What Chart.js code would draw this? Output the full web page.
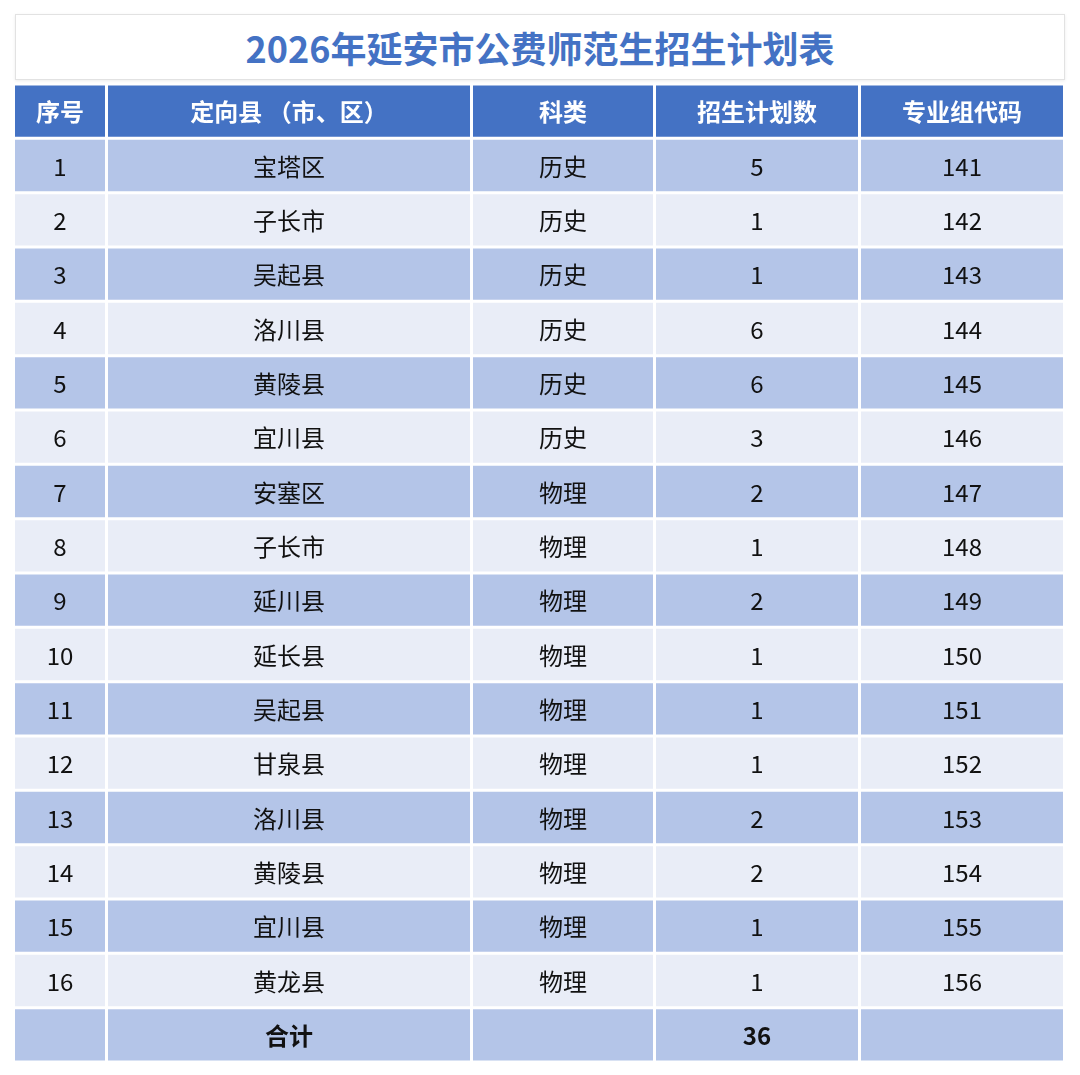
<!DOCTYPE html>
<html><head><meta charset="utf-8">
<script src="https://cdn.jsdelivr.net/npm/chart.js@4"></script>
<style>
body{margin:0;background:#fff;width:1080px;height:1075px;position:relative;overflow:hidden;font-family:"Noto Sans CJK SC","Noto Sans",sans-serif}
#t{position:absolute;left:15px;top:14px;width:1048px;height:64px;border:1px solid #e2e2e2;box-shadow:0 1px 3px rgba(0,0,0,0.08);color:#4472C4;font-weight:bold;font-size:36px;line-height:64px;text-align:center}
#w{position:absolute;left:0;top:0;width:1080px;height:1075px}
</style></head><body>
<div id="t">2026年延安市公费师范生招生计划表</div>
<div id="w"><canvas id="c"></canvas></div>
<script>
const headers = ["序号","定向县 （市、区）","科类","招生计划数","专业组代码"];
const seq = ["1","2","3","4","5","6","7","8","9","10","11","12","13","14","15","16"];
const counties = ["宝塔区","子长市","吴起县","洛川县","黄陵县","宜川县","安塞区","子长市","延川县","延长县","吴起县","甘泉县","洛川县","黄陵县","宜川县","黄龙县"];
const subjects = ["历史","历史","历史","历史","历史","历史","物理","物理","物理","物理","物理","物理","物理","物理","物理","物理"];
const plans = [5,1,1,6,6,3,2,1,2,1,1,1,2,2,1,1];
const codes = ["141","142","143","144","145","146","147","148","149","150","151","152","153","154","155","156"];
const totalLabel = "合计";
const total = plans.reduce((a,b)=>a+b,0);

// layout (not data)
const colBounds = [[0,90],[93,455],[458,638],[641,843],[846,1048]];
const rowsText = [headers].concat(seq.map((s,i)=>[s,counties[i],subjects[i],String(plans[i]),codes[i]])).concat([["",totalLabel,"",String(total),""]]);
const labels = rowsText.map((_,i)=>"r"+i);
const N = rowsText.length;
const rowColor = i => i===0 ? "#4472C4" : (i%2===1 ? "#B4C5E8" : "#E9EDF7");

const datasets = colBounds.map((b,ci)=>({
  data: labels.map(()=>[b[0],b[1]]),
  backgroundColor: labels.map((_,i)=>rowColor(i)),
  borderWidth:0, barPercentage:1, categoryPercentage:0.945, grouped:false
}));

const textPlugin = {id:"txt", afterDatasetsDraw(chart){
  const ctx = chart.ctx; ctx.save(); ctx.textAlign="center"; ctx.textBaseline="middle";
  chart.data.datasets.forEach((ds,ci)=>{
    chart.getDatasetMeta(ci).data.forEach((el,ri)=>{
      const txt = rowsText[ri][ci]; if(!txt) return;
      const bold = ri===0 || ri===N-1;
      ctx.fillStyle = ri===0 ? "#fff" : "#111";
      ctx.font = (bold?"bold ":"")+"24px 'Noto Sans CJK SC','Noto Sans',sans-serif";
      const cx = (el.x + el.base)/2;
      ctx.fillText(txt, cx, el.y+1);
    });
  });
  ctx.restore();
}};

new Chart(document.getElementById("c"),{
  type:"bar",
  data:{labels, datasets},
  options:{
    indexAxis:"y", responsive:true, maintainAspectRatio:false, animation:false,
    layout:{padding:{left:15,right:15,top:84,bottom:13}},
    plugins:{legend:{display:false},tooltip:{enabled:false},title:{display:false}},
    scales:{
      x:{type:"linear",min:0,max:1050,display:false,grid:{display:false}},
      y:{type:"category",display:false,grid:{display:false},offset:true}
    }
  },
  plugins:[textPlugin]
});
</script>
</body></html>
